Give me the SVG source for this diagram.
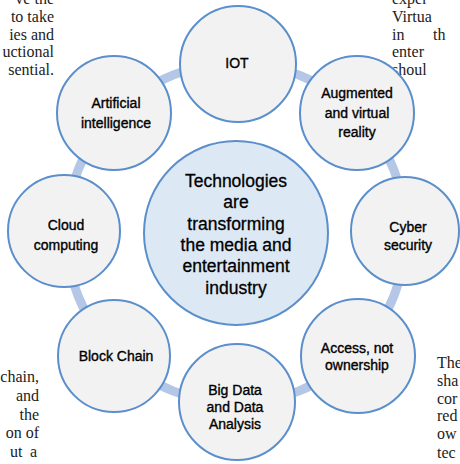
<svg xmlns="http://www.w3.org/2000/svg" width="460" height="464" viewBox="0 0 460 464">
<style>
.bg{font-family:"Liberation Serif","Times New Roman",serif;font-size:16px;fill:#222}
.n circle{fill:#f2f2f2;stroke:#5b8fcb;stroke-width:2}
.n text{font-family:"Liberation Sans",Arial,sans-serif;font-size:14px;fill:#000;stroke:#000;stroke-width:0.35;text-anchor:middle}
#center circle{fill:#dde8f5;stroke:#5b8fcb;stroke-width:2}
#center text{font-family:"Liberation Sans",Arial,sans-serif;font-size:17.5px;fill:#000;stroke:#000;stroke-width:0.3;text-anchor:middle}
</style>
<rect width="460" height="464" fill="#fff"/>
<g id="page-text" class="bg">
<text x="54" y="4" text-anchor="end">ve the</text>
<text x="54" y="22" text-anchor="end">to take</text>
<text x="54" y="40" text-anchor="end">ies and</text>
<text x="54" y="57" text-anchor="end">uctional</text>
<text x="54" y="75" text-anchor="end">sential.</text>
<text x="392" y="4">exper</text>
<text x="392" y="22">Virtua</text>
<text x="392" y="40">in</text>
<text x="433" y="40">th</text>
<text x="392" y="57">enter</text>
<text x="392" y="75">shoul</text>
<text x="39" y="382" text-anchor="end">chain,</text>
<text x="39" y="401" text-anchor="end">and</text>
<text x="39" y="420" text-anchor="end">the</text>
<text x="39" y="438" text-anchor="end">on of</text>
<text x="10" y="457">ut</text>
<text x="37" y="457" text-anchor="end">a</text>
<text x="437" y="368">The</text>
<text x="437" y="386">sha</text>
<text x="437" y="404">cor</text>
<text x="437" y="421">red</text>
<text x="437" y="439">ow</text>
<text x="437" y="458">tec</text>
</g>
<g id="connectors">
<circle cx="236" cy="233" r="170" fill="none" stroke="#b4c7e7" stroke-width="9"/>
</g>
<g id="center">
<circle cx="236" cy="233" r="92"/>
<text x="236" y="187">Technologies</text>
<text x="236" y="208">are</text>
<text x="236" y="230">transforming</text>
<text x="236" y="251">the media and</text>
<text x="236" y="272">entertainment</text>
<text x="236" y="294">industry</text>
</g>
<g id="iot" class="n">
<circle cx="238" cy="64" r="58"/>
<text x="237" y="68">IOT</text>
</g>
<g id="ar-vr" class="n">
<circle cx="357" cy="113" r="57"/>
<text x="357" y="98">Augmented</text>
<text x="357" y="118">and virtual</text>
<text x="357" y="137">reality</text>
</g>
<g id="cyber" class="n">
<circle cx="405" cy="231" r="54"/>
<text x="408" y="232">Cyber</text>
<text x="408" y="250">security</text>
</g>
<g id="access" class="n">
<circle cx="358" cy="356" r="57"/>
<text x="357" y="353">Access, not</text>
<text x="357" y="370">ownership</text>
</g>
<g id="bigdata" class="n">
<circle cx="237" cy="402" r="58"/>
<text x="235" y="395">Big Data</text>
<text x="235" y="412">and Data</text>
<text x="235" y="429">Analysis</text>
</g>
<g id="blockchain" class="n">
<circle cx="114" cy="356" r="56"/>
<text x="116" y="361">Block Chain</text>
</g>
<g id="cloud" class="n">
<circle cx="64" cy="231" r="56"/>
<text x="66" y="230">Cloud</text>
<text x="66" y="250">computing</text>
</g>
<g id="ai" class="n">
<circle cx="114" cy="113" r="57"/>
<text x="116" y="108">Artificial</text>
<text x="116" y="128">intelligence</text>
</g>
</svg>
